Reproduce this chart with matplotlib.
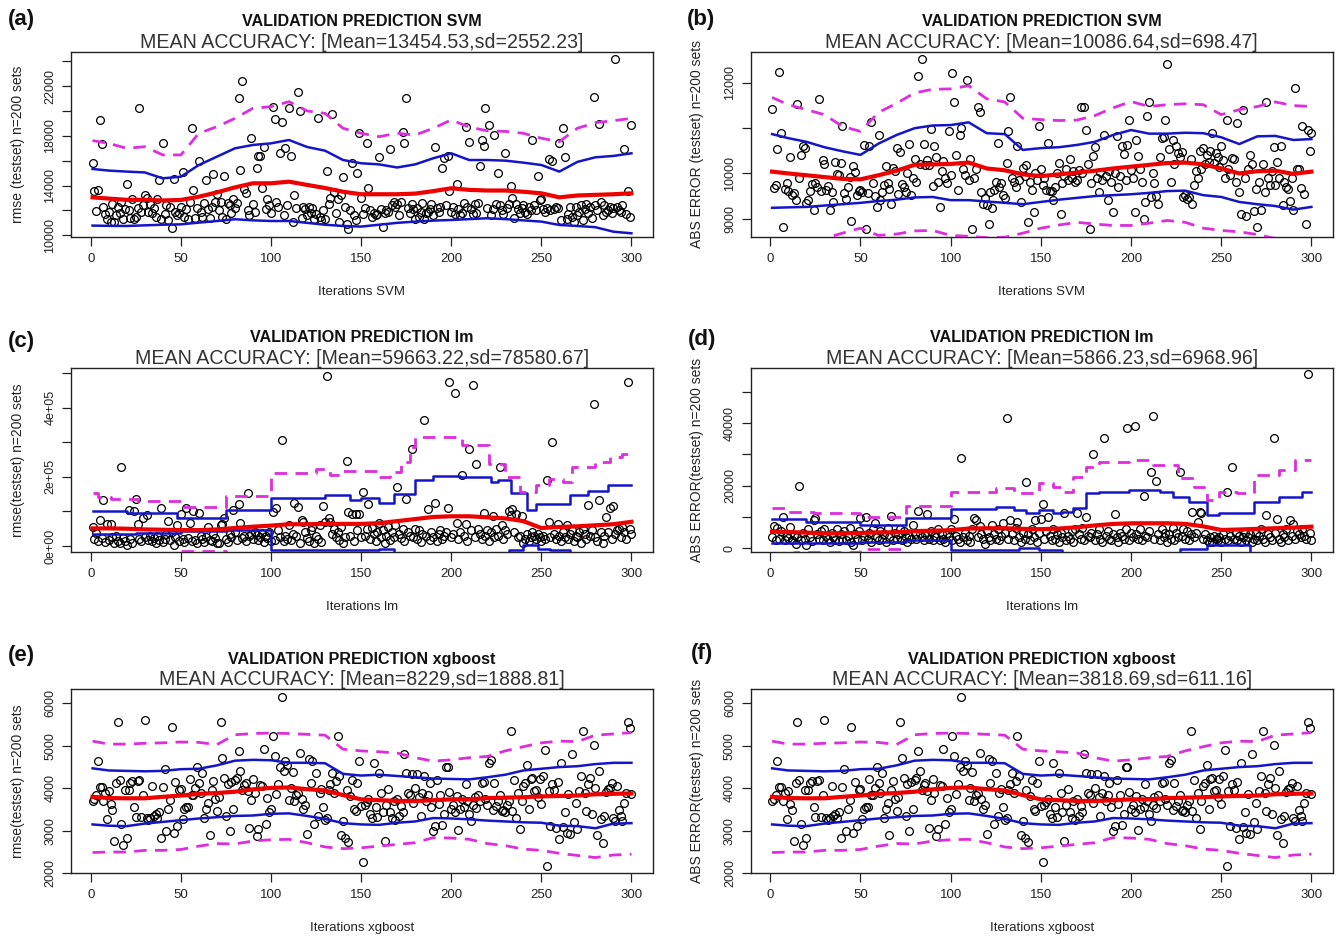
import matplotlib
matplotlib.use("Agg")
import matplotlib.pyplot as plt
import numpy as np

plt.rcParams['font.family'] = ['Liberation Sans', 'DejaVu Sans']

W, H = 1336, 936
ITER = np.arange(1, 301)
LINE_X = [1, 10, 20, 30, 40, 50, 60, 70, 80, 90, 100, 110, 120, 130, 140, 150,
          160, 170, 180, 190, 200, 210, 220, 230, 240, 250, 260, 270, 280, 290, 300]

# ---------------- (a) SVM rmse ----------------
svm_rmse = [
    15840, 13590, 11980, 13640, 19240, 17340, 12300, 11700, 11300, 11900,
    11100, 12500, 11050, 11600, 12300, 11800, 12700, 11300, 12100, 14100,
    12000, 11400, 12900, 11300, 11500, 12200, 20210, 11900, 12400, 13200,
    13000, 11900, 12500, 11800, 12200, 11500, 12900, 14450, 11300, 17390,
    11700, 12400, 11200, 12300, 10600, 14530, 11900, 11600, 11800, 12300,
    15060, 11500, 12100, 11300, 12700, 18600, 13640, 11400, 12200, 15950,
    11900, 11500, 12600, 14450, 12100, 11400, 12300, 14900, 12700, 13300,
    12000, 12700, 11500, 14800, 11300, 12600, 12400, 11800, 12900, 12200,
    12600, 21010, 15250, 22430, 13700, 13400, 12000, 11600, 17850, 12500,
    11900, 15380, 16380, 16380, 13800, 17120, 12100, 12900, 12400, 11800,
    20290, 19350, 12700, 12300, 16590, 19130, 11600, 17050, 12400, 20210,
    16380, 11100, 13200, 12200, 21550, 20020, 11400, 12300, 12100, 11600,
    12300, 11800, 12200, 11300, 11700, 19400, 11500, 11200, 12000, 11300,
    15200, 12500, 13000, 19750, 13500, 11800, 12900, 11100, 13200, 14660,
    12300, 10900, 10500, 12000, 15840, 11600, 11200, 14980, 18250, 13000,
    11700, 12200, 17390, 13830, 12000, 11500, 11800, 11600, 11700, 16270,
    12100, 10700, 11800, 12000, 11900, 16940, 12400, 12700, 12300, 12500,
    11600, 12700, 18330, 17450, 21040, 12200, 11800, 12500, 12100, 11300,
    12200, 11500, 11900, 12600, 11300, 11800, 11900, 12100, 12500, 11600,
    17070, 12200, 11900, 12300, 15380, 16190, 12400, 16380, 13540, 11900,
    12300, 11700, 14100, 12100, 11600, 11800, 12600, 18730, 12300, 17530,
    12100, 11700, 12500, 11800, 12600, 15600, 17660, 17180, 20210, 12200,
    18870, 11600, 12100, 18060, 12500, 14980, 12400, 12000, 11700, 16640,
    12200, 12500, 13990, 13000, 11400, 12500, 12100, 11800, 12200, 12400,
    11900, 11700, 12300, 12000, 17660, 12400, 12000, 14770, 12800, 12900,
    12100, 11900, 12200, 16140, 12000, 15970, 12100, 12300, 12200, 17450,
    11200, 18650, 16270, 11300, 11700, 12300, 11500, 11100, 12300, 11600,
    11900, 12400, 11200, 12100, 12500, 11800, 12300, 11400, 21150, 12400,
    12000, 18950, 12700, 11600, 12400, 11900, 12000, 12300, 11800, 12200,
    24140, 12300, 12000, 11900, 12400, 16940, 11700, 13590, 11500, 18870]
svm_rmse_mean = [13050, 12950, 12850, 12850, 12800, 12840, 13100, 13450, 13850, 14180, 14180,
                 14310, 14050, 13800, 13500, 13300, 13300, 13300, 13350, 13550, 13780,
                 13650, 13600, 13600, 13500, 13375, 13050, 13200, 13250, 13300, 13375]
svm_rmse_up1 = [15330, 15200, 15120, 15050, 14580, 14710, 15650, 16320, 16990, 17260, 17390,
                17660, 17100, 16800, 16050, 15790, 15700, 15450, 15700, 16190, 16590,
                16050, 16050, 16000, 15840, 15650, 15120, 15900, 16270, 16380, 16590]
svm_rmse_lo1 = [10780, 10760, 10750, 10800, 10850, 10880, 11020, 11150, 11290, 11200, 11150,
                11150, 11000, 10850, 10750, 10700, 10850, 11000, 11100, 11180, 11230,
                11300, 11370, 11300, 11200, 11100, 10830, 10750, 10650, 10290, 10160]
svm_rmse_up2 = [17610, 17390, 16990, 17120, 16460, 16460, 18200, 18730, 19400, 20210, 20340,
                20740, 20000, 19800, 18600, 18200, 17930, 18200, 18060, 18600, 19270,
                18700, 18400, 18350, 18200, 17800, 17530, 18600, 19050, 19210, 19400]
svm_rmse_lo2 = [8500, 8500, 8700, 8600, 9100, 9200, 8000, 8500, 8700, 8100, 8000,
                7900, 8100, 7800, 8400, 8400, 8700, 8400, 8600, 8500, 8300,
                8600, 8800, 8800, 8800, 8900, 8600, 7800, 7500, 7400, 7300]

# ---------------- (b) SVM abs error ----------------
svm_abs = [
    11420, 9680, 9750, 10540, 12240, 10900, 8810, 9650, 9780, 9610,
    10370, 9530, 9570, 9410, 11540, 9890, 10410, 10610, 10570, 9350,
    9410, 9610, 9760, 9200, 9790, 9700, 11640, 9610, 10300, 10200,
    9640, 9720, 9190, 9600, 9370, 10260, 9980, 9960, 10240, 11040,
    9560, 9440, 9700, 9930, 8950, 10160, 10040, 9520, 9610, 9640,
    9580, 10630, 8780, 9560, 10610, 11130, 9790, 9500, 9260, 10850,
    9410, 9580, 9740, 10160, 9780, 9650, 9320, 10110, 10050, 10560,
    9540, 10480, 9760, 9700, 9600, 10000, 10650, 9520, 9910, 10320,
    9800, 12160, 10200, 12520, 10650, 10190, 10300, 10180, 10980, 9720,
    10610, 10370, 9800, 9260, 10050, 10280, 9900, 9780, 10930, 9960,
    12220, 11590, 10410, 9630, 10850, 11000, 10090, 9960, 12070, 9850,
    10310, 8780, 9900, 10100, 11480, 11350, 9590, 9330, 9450, 9300,
    8890, 9600, 9240, 9640, 9810, 10670, 9700, 9780, 9530, 9450,
    10220, 10930, 11700, 9900, 9800, 9700, 10610, 9850, 9370, 10110,
    9950, 10190, 8930, 9800, 9640, 9150, 10000, 9850, 11040, 10100,
    9740, 9900, 9630, 10680, 9610, 9610, 9420, 9700, 10000, 10240,
    9110, 9780, 9950, 10100, 9850, 10310, 9900, 10060, 9800, 9850,
    10070, 11480, 10000, 11480, 10960, 10200, 8780, 9780, 10390, 10590,
    9900, 9590, 10040, 9850, 10850, 9950, 9410, 10050, 9800, 9150,
    10000, 10830, 9700, 9940, 10610, 10440, 9850, 10640, 11190, 10070,
    9900, 9150, 10740, 10390, 10100, 9800, 9000, 9370, 11260, 11590,
    9480, 10000, 9790, 9500, 9330, 10370, 10780, 10810, 11190, 12420,
    10550, 9810, 10740, 10200, 10610, 10450, 10370, 10480, 9480, 9520,
    9440, 9480, 10330, 9320, 9740, 10050, 9900, 10500, 10100, 10560,
    10200, 10400, 10250, 10500, 10900, 10220, 10450, 10370, 10150, 10610,
    10300, 9900, 11190, 10100, 9960, 10350, 10310, 9800, 11110, 9600,
    9110, 11410, 9900, 9070, 10100, 10410, 10200, 9170, 9650, 8810,
    9800, 9190, 10200, 9600, 11590, 9900, 9740, 10050, 10590, 9750,
    10260, 9900, 10610, 9300, 9800, 9700, 9650, 9400, 9900, 9190,
    11890, 10100, 10090, 9670, 11050, 9550, 8890, 10950, 10500, 10900]
svm_abs_mean = [10040, 10000, 9960, 9920, 9880, 9870, 9960, 10060, 10190, 10200, 10210,
                10240, 10110, 10070, 9980, 9940, 9980, 10020, 10060, 10110, 10150,
                10190, 10230, 10240, 10200, 10110, 10000, 10050, 10060, 9990, 10040]
svm_abs_up1 = [10870, 10780, 10700, 10580, 10490, 10410, 10660, 10850, 11000, 11060, 11070,
               11130, 10890, 10870, 10520, 10560, 10580, 10630, 10700, 10850, 10960,
               10880, 10880, 10900, 10890, 10800, 10650, 10820, 10830, 10740, 10760]
svm_abs_lo1 = [9240, 9250, 9260, 9290, 9320, 9350, 9390, 9420, 9470, 9480, 9410,
               9410, 9380, 9350, 9320, 9370, 9420, 9460, 9500, 9520, 9540,
               9570, 9610, 9620, 9520, 9480, 9370, 9320, 9280, 9200, 9260]
svm_abs_up2 = [11680, 11520, 11410, 11300, 11040, 10930, 11350, 11550, 11780, 11860, 11870,
               11940, 11650, 11580, 11220, 11190, 11170, 11180, 11280, 11450, 11590,
               11480, 11520, 11540, 11520, 11300, 11410, 11480, 11580, 11500, 11480]
svm_abs_lo2 = [8420, 8450, 8500, 8560, 8680, 8790, 8630, 8660, 8730, 8740, 8630,
               8610, 8580, 8590, 8680, 8790, 8860, 8920, 8880, 8850, 8850,
               8900, 8960, 8920, 8790, 8740, 8710, 8650, 8560, 8420, 8400]

# ---------------- (c) lm rmse ----------------
lm_rmse = [
    56000, 20000, 39000, 15000, 75000, 22000, 133000, 12000, 63500, 18000,
    63500, 25000, 8000, 30000, 15000, 10000, 229000, 22000, 14000, 3000,
    104000, 20000, 10000, 101000, 135600, 65000, 20000, 15000, 80000, 25000,
    89000, 18000, 30000, 14000, 22000, 10000, 28000, 16000, 110000, 12000,
    20000, 35000, 72000, 18000, 40000, 2000, 25000, 60000, 15000, 94000,
    20000, 12000, 110000, 22000, 68000, 15000, 101000, 18000, 10000, 96000,
    30000, 20000, 12000, 25000, 56000, 18000, 15000, 34000, 22000, 10000,
    8000, 60000, 65000, 80000, 20000, 12000, 35000, 25000, 104000, 40000,
    18000, 123000, 67000, 22000, 30000, 15000, 152000, 28000, 35000, 20000,
    40000, 32000, 18000, 25000, 38000, 12000, 30000, 22000, 40000, 15000,
    99000, 18000, 109000, 45000, 25000, 306000, 15000, 30000, 20000, 60000,
    18000, 35000, 125000, 28000, 113500, 10000, 75000, 70000, 40000, 22000,
    15000, 45000, 56000, 8000, 30000, 20000, 60000, 12000, 115000, 70000,
    493000, 82000, 70000, 35000, 50000, 25000, 40000, 18000, 55000, 10000,
    25000, 246000, 99000, 30000, 94000, 15000, 94000, 45000, 94000, 25000,
    157000, 30000, 50000, 123000, 20000, 51000, 35000, 15000, 40000, 67000,
    25000, 45000, 10000, 30000, 55000, 18000, 40000, 25000, 60000, 171000,
    35000, 22000, 50000, 15000, 135600, 40000, 30000, 282000, 25000, 50000,
    20000, 45000, 12000, 35000, 366000, 30000, 107000, 18000, 40000, 25000,
    125000, 15000, 35000, 45000, 20000, 30000, 40000, 110000, 476000, 25000,
    35000, 442000, 67000, 20000, 40000, 205000, 30000, 65000, 15000, 282000,
    45000, 467000, 25000, 236500, 50000, 35000, 20000, 96000, 30000, 45000,
    15000, 40000, 87500, 25000, 50000, 30000, 229000, 60000, 20000, 45000,
    35000, 102000, 90000, 106000, 40000, 94000, 25000, 30000, 86500, 10000,
    20000, 35000, 15000, 25000, 40000, 30000, 20000, 35000, 25000, 15000,
    30000, 20000, 190000, 70000, 25000, 301000, 35000, 20000, 65000, 30000,
    15000, 40000, 25000, 60500, 20000, 35000, 45000, 15000, 30000, 25000,
    40000, 10000, 50000, 35000, 20000, 118000, 30000, 45000, 411500, 25000,
    15000, 132700, 40000, 10000, 30000, 82700, 40000, 108600, 20000, 115000,
    35000, 45000, 50000, 25000, 55000, 40000, 20000, 476000, 50000, 35000]
lm_rmse_mean = [51000, 51000, 50000, 48000, 47000, 46000, 46000, 48000, 52000, 56000, 59000,
                63000, 63000, 64000, 64000, 64000, 66000, 72000, 78000, 84000, 86000,
                86000, 83000, 80000, 72000, 52000, 55000, 57000, 60000, 63000, 70000]
lm_rmse_up1_x = [1, 20, 48, 75, 100, 130, 144, 150, 160, 168, 180, 190, 205, 222, 226,
                 233, 242, 247, 266, 276, 287, 300]
lm_rmse_up1 = [101000, 95000, 82000, 104000, 138000, 147000, 132700, 139000, 125000, 150000,
               192000, 202000, 200000, 185600, 190000, 154000, 104000, 123000, 147000,
               160000, 176000, 176000]
lm_rmse_lo1_x = [1, 25, 50, 75, 100, 160, 168, 232, 240, 248, 255, 266, 300]
lm_rmse_lo1 = [34600, 38000, 43300, 46200, -11500, -9600, -40000, -10500, 2900, -9600,
               -11500, -40000, -40000]
lm_rmse_up2_x = [1, 4, 11, 26, 50, 75, 100, 125, 133, 137, 160, 166, 172, 177, 180, 206,
                 221, 230, 238, 247, 254, 262, 267, 280, 288, 295, 300]
lm_rmse_up2 = [152000, 142000, 135600, 130000, 113500, 145000, 212000, 222000, 205000,
               217000, 200000, 215000, 243000, 286500, 315000, 291000, 238000, 200000,
               157000, 176000, 195000, 185600, 229000, 243000, 257700, 267000, 267000]
lm_rmse_lo2_x = [1, 50, 75, 300]
lm_rmse_lo2 = [-60000, -13500, -80000, -80000]

# ---------------- (d) lm abs error ----------------
lm_abs = [
    3500, 7000, 2500, 6500, 3000, 5500, 9900, 2800, 4000, 3200,
    6800, 2500, 4200, 1500, 3500, 20000, 2800, 5000, 3000, 1200,
    6000, 3500, 2200, 9040, 9600, 4500, 3000, 5500, 2500, 6000,
    4000, 3000, 2000, 5000, 3500, 2800, 6000, 2200, 4500, 3000,
    5500, 2500, 3800, 6500, 2000, 1000, 4500, 3000, 5500, 9600,
    2500, 4000, 9900, 3000, 5000, 2000, 6000, 8000, 3500, 2500,
    5500, 3000, 4500, 2000, 6500, 3500, 10300, 2800, 5000, 3000,
    4500, 6000, 2500, 5500, 3500, 2000, 4000, 3000, 7450, 4500,
    3000, 12000, 5000, 3500, 2500, 4500, 10960, 3000, 5500, 2500,
    4000, 3500, 6000, 2800, 4500, 3000, 2000, 5000, 3500, 6000,
    2500, 9250, 4000, 3000, 2000, 28700, 3500, 5000, 2500, 4000,
    2000, 6000, 9800, 9040, 3500, 7000, 4500, 3000, 1500, 5500,
    3500, 2500, 7450, 4500, 3000, 6000, 2500, 4000, 8200, 5000,
    41500, 3000, 9040, 4500, 2500, 6500, 8500, 3500, 2000, 5000,
    3000, 21300, 4500, 2500, 6000, 3500, 9040, 2000, 5000, 9360,
    14150, 3000, 5500, 9900, 4000, 2500, 6000, 3000, 4500, 2000,
    5000, 3500, 11200, 2500, 4000, 3000, 5500, 2000, 6000, 11200,
    4500, 3000, 6500, 2500, 9900, 4000, 3500, 5000, 30000, 2500,
    4500, 6000, 3000, 2000, 35100, 4000, 5500, 3000, 2500, 4500,
    10850, 3500, 2000, 5000, 4000, 3000, 6000, 38300, 2500, 5000,
    3500, 39050, 4500, 3000, 6000, 2500, 16800, 4000, 3500, 5500,
    24470, 42240, 3000, 21600, 4500, 2500, 6000, 3500, 5000, 2000,
    4500, 3000, 6500, 2500, 5000, 3500, 24470, 4000, 6000, 3000,
    5500, 2500, 4500, 11700, 3500, 5000, 8510, 11700, 11380, 3000,
    4500, 2500, 2000, 3500, 2000, 4000, 3000, 2500, 3500, 2000,
    4500, 3000, 18090, 2500, 4000, 26070, 3000, 5000, 2500, 4000,
    2000, 3500, 5000, 2500, 3500, 4500, 2000, 3000, 5000, 2500,
    4000, 6000, 3000, 2000, 10640, 4500, 3500, 2500, 35110, 5000,
    9250, 3000, 2000, 4500, 3500, 6000, 2500, 9040, 4000, 7660,
    3000, 5500, 4500, 3500, 6000, 4000, 3000, 55650, 5000, 2500]
lm_abs_mean = [5300, 5200, 5000, 4800, 4800, 4900, 5100, 5100, 5500, 5600, 5800,
               6300, 6400, 6400, 6200, 6100, 6300, 6700, 7300, 7770, 7980,
               7980, 7980, 7800, 7000, 5850, 6000, 6200, 6400, 6600, 6900]
lm_abs_up1_x = [1, 20, 50, 75, 100, 125, 135, 142, 149, 157, 162, 168, 175, 182, 199,
                216, 223, 232, 242, 249, 268, 282, 295, 300]
lm_abs_up1 = [9250, 8500, 7450, 9570, 12450, 13100, 12200, 11400, 12200, 11200, 11700,
              12800, 17550, 18100, 18600, 18100, 16500, 14900, 10600, 11400, 14900,
              16500, 18100, 18100]
lm_abs_lo1_x = [1, 50, 75, 100, 138, 149, 162, 227, 242, 266, 300]
lm_abs_lo1 = [1600, 2100, 2660, -530, 0, -530, -3000, -300, 1060, -3000, -3000]
lm_abs_up2_x = [1, 8, 24, 50, 75, 100, 125, 135, 142, 149, 157, 162, 168, 175, 182, 199,
                212, 226, 235, 242, 249, 259, 268, 282, 291, 300]
lm_abs_up2 = [12770, 11700, 11380, 9900, 13500, 18100, 19100, 17550, 17770, 20700, 19700,
              18100, 22870, 26060, 27660, 28190, 26600, 22340, 19680, 15430, 18090,
              17550, 23400, 25000, 28190, 28190]
lm_abs_lo2_x = [1, 13, 50, 75, 300]
lm_abs_lo2 = [-3000, -1100, -300, -6000, -6000]

# ---------------- (e)/(f) xgboost ----------------
xgb_values = [
    3700, 3740, 3850, 4640, 4020, 4020, 3700, 3900, 3270, 3940,
    3620, 3500, 2760, 4120, 5550, 4200, 3150, 2660, 3950, 2840,
    3960, 4130, 4180, 3570, 3330, 4170, 4200, 3330, 3840, 5610,
    3310, 3250, 3300, 4050, 3350, 3390, 3290, 3450, 2840, 4040,
    4460, 3000, 3510, 3720, 5450, 2960, 4160, 3110, 3950, 3990,
    3270, 3520, 3550, 3570, 4210, 3850, 3840, 4000, 4490, 4130,
    3900, 4350, 3310, 3510, 3650, 2890, 3960, 4180, 3760, 3470,
    3800, 5560, 4720, 4250, 3350, 4100, 3000, 4150, 3520, 4200,
    4250, 4880, 4410, 3960, 4070, 4130, 3930, 3070, 3730, 4210,
    3900, 2880, 3050, 4080, 4050, 4930, 3150, 3780, 3450, 3510,
    5230, 4760, 3860, 4100, 4490, 6160, 4410, 4640, 4550, 3730,
    4000, 4380, 3700, 3840, 3900, 4820, 3740, 3510, 3600, 2920,
    4700, 4130, 4640, 3150, 4370, 3350, 3900, 3980, 3550, 3250,
    3310, 3950, 4090, 4370, 3880, 4180, 5230, 4290, 2890, 3230,
    2840, 3950, 2740, 3820, 4200, 3510, 3470, 4130, 4640, 3580,
    2270, 3600, 3680, 3740, 3400, 3310, 4590, 3550, 3330, 4370,
    3900, 3450, 2760, 3600, 3980, 3450, 3310, 3700, 3250, 3740,
    3350, 3580, 3450, 4800, 4350, 3900, 3840, 4330, 3650, 4000,
    4330, 3800, 3360, 3900, 4290, 3700, 3840, 4130, 3550, 3000,
    3110, 4200, 3640, 3850, 3130, 3400, 4490, 4500, 3910, 3510,
    3600, 3450, 3820, 3020, 3510, 3740, 3550, 4090, 3700, 3400,
    3230, 3600, 3800, 3540, 3850, 3700, 4130, 4150, 3750, 3600,
    4600, 4660, 3500, 4130, 3580, 3700, 3840, 3470, 3480, 3450,
    3600, 3700, 5350, 3470, 4200, 3290, 3900, 3050, 3700, 4050,
    4130, 4560, 3520, 4210, 4250, 3940, 3950, 3800, 4210, 3620,
    4300, 4900, 2170, 3940, 3110, 4090, 3950, 3070, 4150, 2800,
    4600, 3100, 3440, 2960, 3860, 2920, 4800, 3200, 3660, 3040,
    3940, 4300, 5350, 3900, 3470, 4100, 4250, 3390, 5030, 4000,
    2890, 4410, 3270, 2720, 3350, 3910, 3980, 4000, 4130, 3290,
    3230, 4050, 3490, 3350, 3230, 3660, 3900, 5560, 5430, 3860]
xgb_mean = [3800, 3770, 3765, 3765, 3800, 3830, 3870, 3890, 3920, 3975, 4010,
            4020, 3980, 3950, 3840, 3740, 3720, 3705, 3700, 3720, 3740,
            3740, 3770, 3780, 3790, 3810, 3820, 3830, 3860, 3870, 3880]
xgb_up1 = [4470, 4420, 4410, 4400, 4410, 4450, 4460, 4540, 4650, 4670, 4660,
           4600, 4600, 4590, 4340, 4300, 4320, 4290, 4260, 4230, 4220,
           4210, 4260, 4320, 4420, 4460, 4500, 4520, 4570, 4600, 4600]
xgb_lo1 = [3150, 3120, 3110, 3170, 3210, 3250, 3290, 3320, 3350, 3360, 3400,
           3410, 3350, 3280, 3180, 3150, 3140, 3190, 3220, 3300, 3290,
           3270, 3240, 3220, 3200, 3190, 3120, 3110, 3060, 3170, 3180]
xgb_up2 = [5110, 5040, 5040, 5060, 5070, 5090, 5080, 5030, 5260, 5290, 5300,
           5290, 5270, 5250, 4920, 4880, 4860, 4830, 4720, 4640, 4670,
           4720, 4750, 4880, 4980, 5070, 5110, 5100, 5250, 5280, 5310]
xgb_lo2 = [2490, 2500, 2500, 2540, 2540, 2560, 2640, 2700, 2690, 2760, 2790,
           2800, 2720, 2620, 2580, 2600, 2640, 2680, 2720, 2840, 2830,
           2800, 2700, 2650, 2570, 2540, 2470, 2420, 2370, 2430, 2450]

# ---------------- text ----------------
panel_tags = ['(a)', '(b)', '(c)', '(d)', '(e)', '(f)']
titles = ['VALIDATION PREDICTION SVM', 'VALIDATION PREDICTION SVM',
          'VALIDATION PREDICTION lm', 'VALIDATION PREDICTION lm',
          'VALIDATION PREDICTION xgboost', 'VALIDATION PREDICTION xgboost']
subtitles = ['MEAN ACCURACY: [Mean=13454.53,sd=2552.23]',
             'MEAN ACCURACY: [Mean=10086.64,sd=698.47]',
             'MEAN ACCURACY: [Mean=59663.22,sd=78580.67]',
             'MEAN ACCURACY: [Mean=5866.23,sd=6968.96]',
             'MEAN ACCURACY: [Mean=8229,sd=1888.81]',
             'MEAN ACCURACY: [Mean=3818.69,sd=611.16]']
ylabels = ['rmse (testset) n=200 sets', 'ABS ERROR (testset) n=200 sets',
           'rmse(testset) n=200 sets', 'ABS ERROR(testset) n=200 sets',
           'rmse(testset) n=200 sets', 'ABS ERROR(testset) n=200 sets']
xlabels = ['Iterations SVM', 'Iterations SVM', 'Iterations lm', 'Iterations lm',
           'Iterations xgboost', 'Iterations xgboost']
xtick_vals = [0, 50, 100, 150, 200, 250, 300]
yticks_a = [10000, 12000, 14000, 16000, 18000, 20000, 22000, 24000]
ylabs_a = ['10000', '', '14000', '', '18000', '', '22000', '']
yticks_b = [9000, 10000, 11000, 12000]
ylabs_b = ['9000', '10000', '', '12000']
yticks_c = [0, 100000, 200000, 300000, 400000, 500000]
ylabs_c = ['0e+00', '', '2e+05', '', '4e+05', '']
yticks_d = [0, 10000, 20000, 30000, 40000, 50000]
ylabs_d = ['0', '', '20000', '', '40000', '']
yticks_e = [2000, 3000, 4000, 5000, 6000]
ylabs_e = ['2000', '3000', '4000', '5000', '6000']

# ---------------- layout (pixels) ----------------
boxes = [(71, 52, 653, 237), (750.5, 52, 1333, 237),
         (71, 367.7, 653, 552.3), (750.5, 367.7, 1333, 552.3),
         (71, 689.3, 653, 873.3), (750.5, 689.3, 1333, 873.3)]
ylims = [(9863, 24733), (8595, 12685), (-18250, 516200), (-1280, 57660),
         (2000, 6330), (2000, 6330)]
tag_pos = [(21, 20), (701, 20), (21, 341), (702, 340), (21, 655), (702, 654)]

RED = '#ee0000'
BLUE = '#1515c8'
MAG = '#dc2edc'

fig = plt.figure(figsize=(W / 100, H / 100), dpi=100)


def fx(px):
    return px / W


def fy(py):
    return 1 - py / H


panels = [
    dict(pts=svm_rmse, mean=(LINE_X, svm_rmse_mean), up1=(LINE_X, svm_rmse_up1),
         lo1=(LINE_X, svm_rmse_lo1), up2=(LINE_X, svm_rmse_up2), lo2=(LINE_X, svm_rmse_lo2),
         step=False, yt=yticks_a, yl=ylabs_a),
    dict(pts=svm_abs, mean=(LINE_X, svm_abs_mean), up1=(LINE_X, svm_abs_up1),
         lo1=(LINE_X, svm_abs_lo1), up2=(LINE_X, svm_abs_up2), lo2=(LINE_X, svm_abs_lo2),
         step=False, yt=yticks_b, yl=ylabs_b),
    dict(pts=lm_rmse, mean=(LINE_X, lm_rmse_mean), up1=(lm_rmse_up1_x, lm_rmse_up1),
         lo1=(lm_rmse_lo1_x, lm_rmse_lo1), up2=(lm_rmse_up2_x, lm_rmse_up2),
         lo2=(lm_rmse_lo2_x, lm_rmse_lo2), step=True, yt=yticks_c, yl=ylabs_c),
    dict(pts=lm_abs, mean=(LINE_X, lm_abs_mean), up1=(lm_abs_up1_x, lm_abs_up1),
         lo1=(lm_abs_lo1_x, lm_abs_lo1), up2=(lm_abs_up2_x, lm_abs_up2),
         lo2=(lm_abs_lo2_x, lm_abs_lo2), step=True, yt=yticks_d, yl=ylabs_d),
    dict(pts=xgb_values, mean=(LINE_X, xgb_mean), up1=(LINE_X, xgb_up1),
         lo1=(LINE_X, xgb_lo1), up2=(LINE_X, xgb_up2), lo2=(LINE_X, xgb_lo2),
         step=False, yt=yticks_e, yl=ylabs_e),
    dict(pts=xgb_values, mean=(LINE_X, xgb_mean), up1=(LINE_X, xgb_up1),
         lo1=(LINE_X, xgb_lo1), up2=(LINE_X, xgb_up2), lo2=(LINE_X, xgb_lo2),
         step=False, yt=yticks_e, yl=ylabs_e),
]

for i, p in enumerate(panels):
    l, t, r, b = boxes[i]
    ax = fig.add_axes([fx(l), fy(b), fx(r - l), (b - t) / H])
    ax.set_xlim(-10.96, 311.96)
    ax.set_ylim(*ylims[i])
    ax.plot(ITER[:len(p['pts'])], p['pts'], linestyle='none', marker='o', ms=5.6,
            mfc='none', mec='black', mew=0.9, zorder=2)
    ds = 'steps-post' if p['step'] else 'default'
    ax.plot(*p['up1'], color=BLUE, lw=1.8, drawstyle=ds, zorder=3)
    ax.plot(*p['lo1'], color=BLUE, lw=1.8, drawstyle=ds, zorder=3)
    ax.plot(*p['up2'], color=MAG, lw=2.0, ls=(0, (4.5, 3)), drawstyle=ds, zorder=3)
    ax.plot(*p['lo2'], color=MAG, lw=2.0, ls=(0, (4.5, 3)), drawstyle=ds, zorder=3)
    ax.plot(*p['mean'], color=RED, lw=3.0, zorder=4)

    ax.set_xticks(xtick_vals)
    ax.set_xticklabels([str(v) for v in xtick_vals])
    ax.set_yticks(p['yt'])
    ax.set_yticklabels(p['yl'], rotation=90, va='center')
    ax.tick_params(direction='out', length=6.5, width=0.9,
                   colors='#222222', top=False, right=False)
    ax.tick_params(axis='x', pad=5, labelsize=9.5)
    ax.tick_params(axis='y', pad=4, labelsize=9)
    for s in ax.spines.values():
        s.set_linewidth(1.0)
        s.set_color('#222222')

    cx = (l + r) / 2
    fig.text(fx(cx), fy(t - 30), titles[i], ha='center', va='center',
             fontsize=11.6, fontweight='bold', color='#111111')
    fig.text(fx(cx), fy(t - 9.5), subtitles[i], ha='center', va='center',
             fontsize=14.1, color='#333333')
    fig.text(fx(cx), fy(b + 55), xlabels[i], ha='center', va='center',
             fontsize=9.5, color='#222222')
    fig.text(fx(l - 53), fy((t + b) / 2), ylabels[i], ha='center', va='center',
             rotation=90, fontsize=10, color='#222222')
    tx, ty = tag_pos[i]
    fig.text(fx(tx), fy(ty), panel_tags[i], ha='center', va='center',
             fontsize=16, fontweight='bold', color='#111111')

fig.savefig('out.png', dpi=100)
